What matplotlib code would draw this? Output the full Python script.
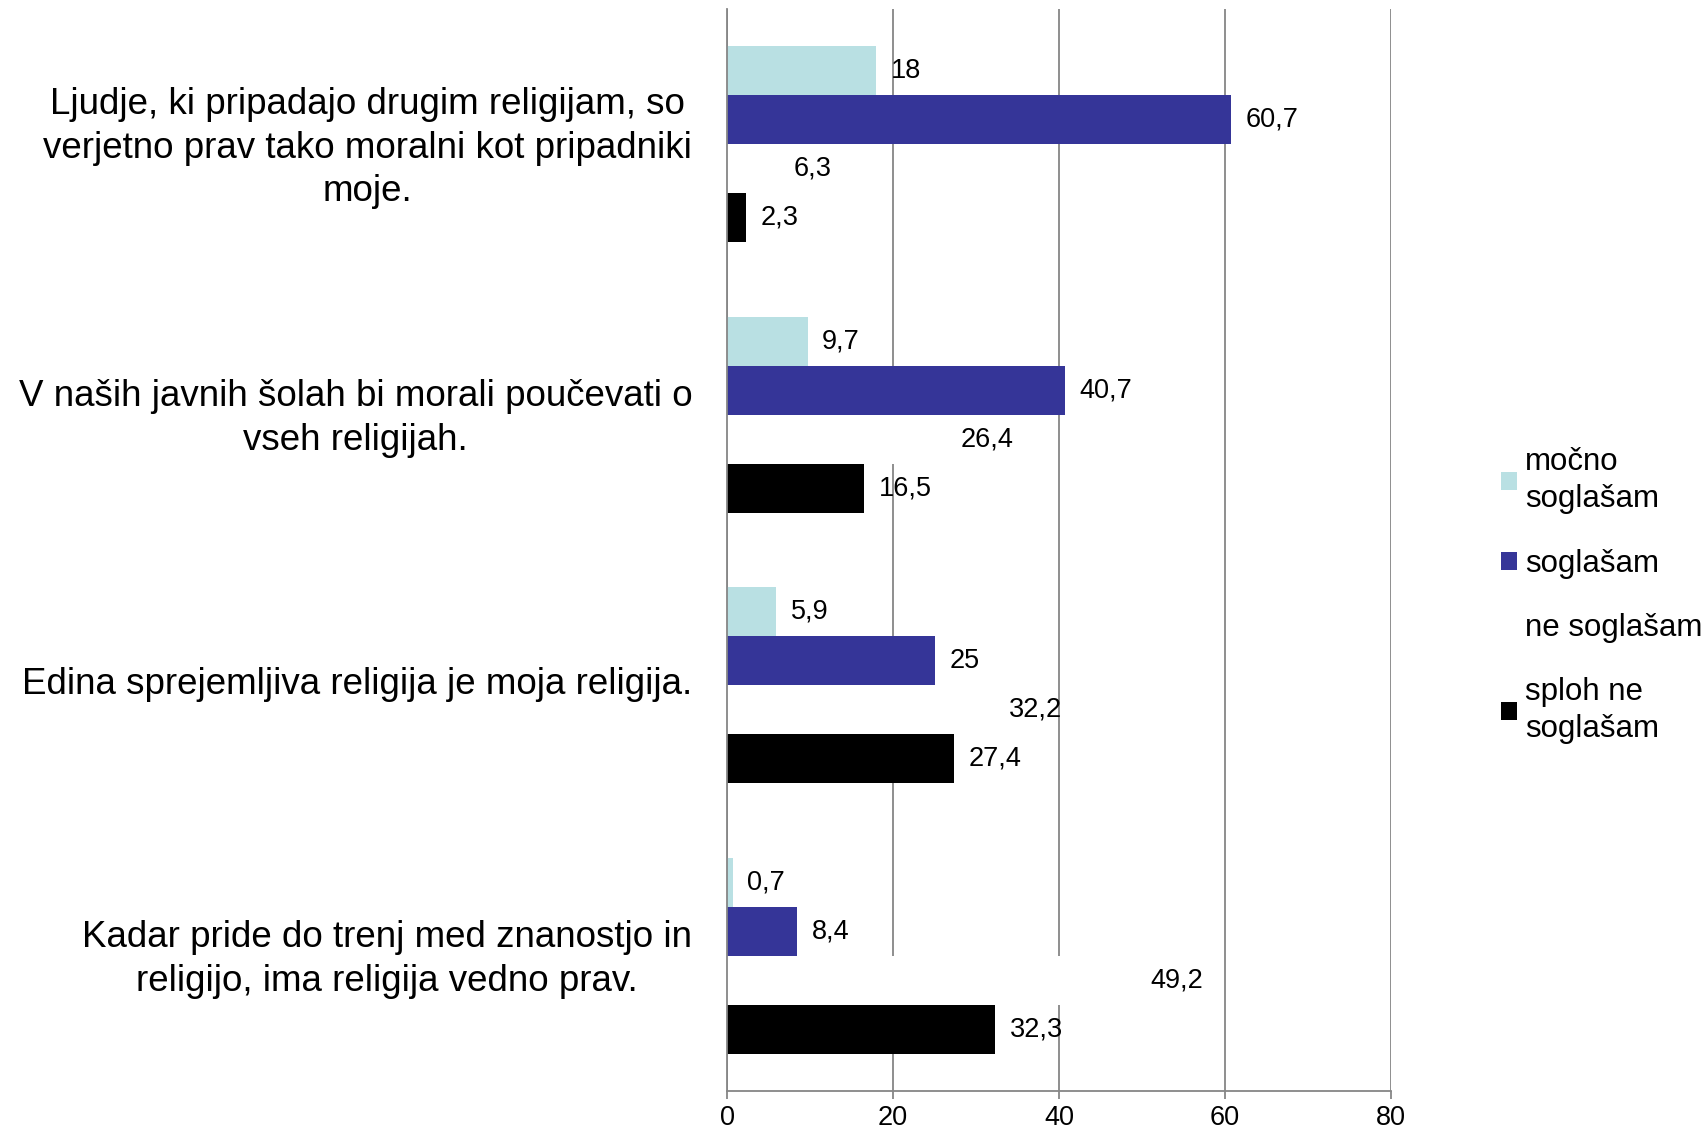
import matplotlib
matplotlib.use('Agg')
import matplotlib.pyplot as plt
import matplotlib.transforms as mtransforms
import numpy as np

plt.rcParams['font.family'] = ['Liberation Sans', 'DejaVu Sans']

# Categories (top to bottom) and series values
categories = [
    "Ljudje, ki pripadajo drugim religijam, so\nverjetno prav tako moralni kot pripadniki\nmoje.",
    "V naših javnih šolah bi morali poučevati o\nvseh religijah.",
    "Edina sprejemljiva religija je moja religija.",
    "Kadar pride do trenj med znanostjo in\nreligijo, ima religija vedno prav.",
]
series_names = ["močno\nsoglašam", "soglašam", "ne soglašam", "sploh ne\nsoglašam"]
mocno = [18, 9.7, 5.9, 0.7]
soglasam = [60.7, 40.7, 25, 8.4]
ne_soglasam = [6.3, 26.4, 32.2, 49.2]
sploh_ne = [2.3, 16.5, 27.4, 32.3]
colors = ["#B9E0E3", "#353598", "#FFFFFF", "#000000"]

fig = plt.figure(figsize=(17.08, 11.35), dpi=100)
ax = fig.add_axes([0.4257, 0.0388, 0.3887, 0.9532])

y = np.arange(len(categories))
h = 0.1815
all_series = [mocno, soglasam, ne_soglasam, sploh_ne]
for j, (vals, name, col) in enumerate(zip(all_series, series_names, colors)):
    pos = y + (j - 1.5) * h
    ax.barh(pos, vals, height=h, color=col, label=name, zorder=2)
    for v, p in zip(vals, pos):
        ax.annotate(f"{v:g}".replace('.', ','), (v, p), xytext=(10.5, 0),
                    textcoords='offset points', va='center', ha='left',
                    fontsize=19.5, zorder=3)

ax.set_xlim(0, 80)
ax.set_ylim(-0.5, 3.5)
ax.invert_yaxis()
ax.set_xticks([0, 20, 40, 60, 80])
ax.set_yticks(y)
ax.set_yticklabels(categories, fontsize=26.5)
ax.tick_params(axis='y', length=0, pad=25)
ax.tick_params(axis='x', labelsize=19.5, length=6, color='#868686', width=1.3, pad=4)
# nudge category labels up a little
shift = mtransforms.ScaledTranslation(0, 3.2 / 72, fig.dpi_scale_trans)
for lbl in ax.get_yticklabels():
    lbl.set_multialignment('center')
    lbl.set_linespacing(1.31)
    lbl.set_transform(lbl.get_transform() + shift)
ax.grid(axis='x', color='#868686', linewidth=1.3, zorder=0)
ax.set_axisbelow(True)
for s in ['top', 'right']:
    ax.spines[s].set_visible(False)
for s in ['left', 'bottom']:
    ax.spines[s].set_color('#868686')
    ax.spines[s].set_linewidth(1.3)

leg = ax.legend(loc='center left', bbox_to_anchor=(0.8788, 0.475), bbox_transform=fig.transFigure,
                frameon=False, fontsize=22.5, handlelength=0.52, handleheight=0.52,
                handletextpad=0.25, labelspacing=1.1, borderpad=0, borderaxespad=0)
for t in leg.get_texts():
    t.set_linespacing(1.3)

plt.savefig("out.png", dpi=100)
